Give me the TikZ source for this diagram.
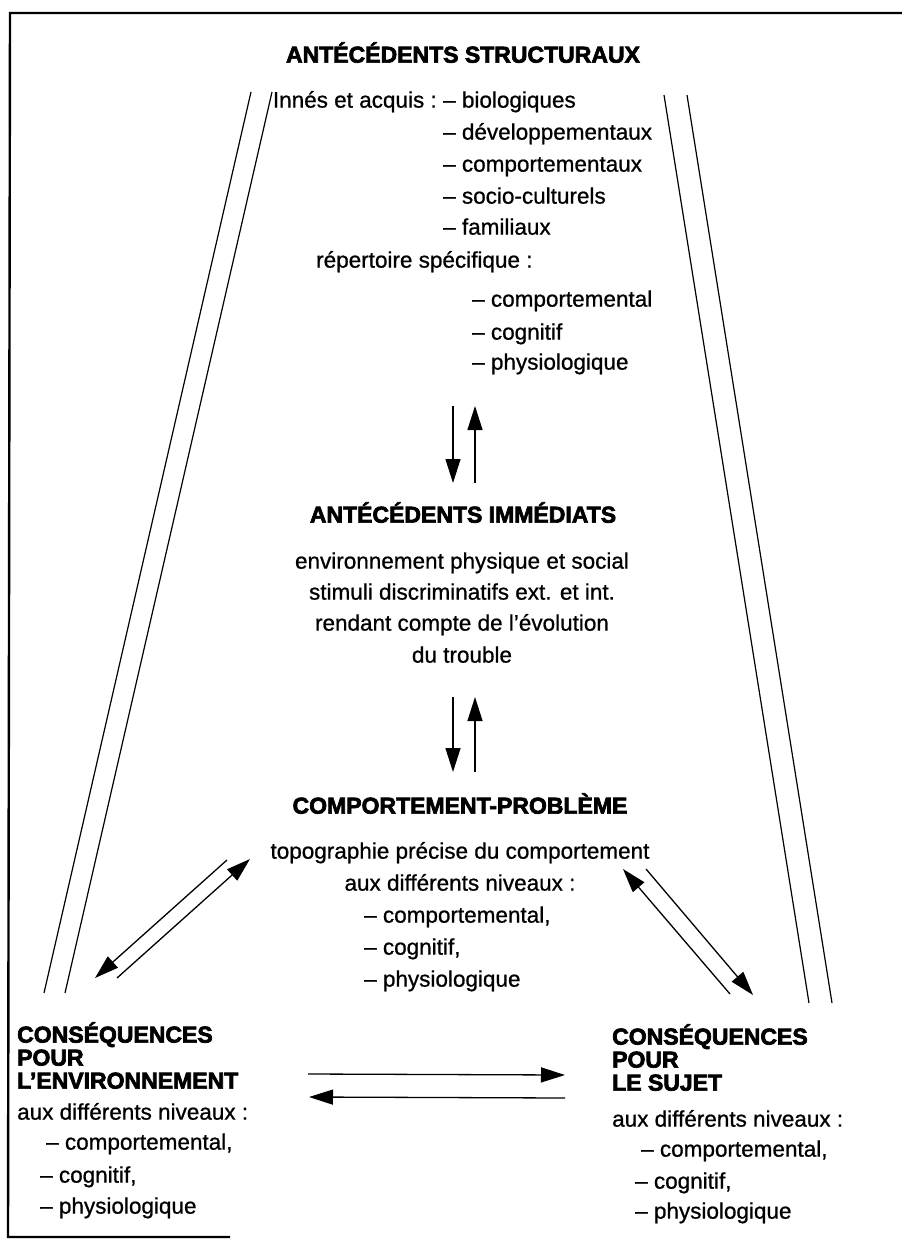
\documentclass[tikz,border=0pt]{standalone}
\usepackage{fontspec}
\setmainfont{Liberation Sans}[UprightFeatures={FakeBold=0.8}, BoldFeatures={FakeBold=3}]
\usetikzlibrary{arrows.meta}

\begin{document}
\begin{tikzpicture}[x=1pt,y=-1pt]
\tikzstyle{titel} = [font=\fontsize{23}{23}\selectfont\bfseries, inner sep=0pt, align=left]
\tikzstyle{zeile} = [font=\fontsize{22.5}{31}\selectfont, inner sep=0pt]
\tikzstyle{pfeil} = [line width=1.3pt, -{Triangle[length=24pt,width=15pt]}]
\tikzstyle{schraeg} = [line width=1.2pt]
\useasboundingbox (0,0) rectangle (902,1240);
% Rahmen
\draw[line width=2.4pt] (902,13) -- (10,13) -- (8,1237) -- (230,1237);
% Ebene 1
\node[titel, anchor=mid] (struct) at (463,60) {ANTÉCÉDENTS STRUCTURAUX};
\node[zeile, anchor=mid east] (acquis) at (437,105) {Innés et acquis :};
\foreach \y/\t [count=\i] in {105/biologiques,137/développementaux,169/comportementaux,201/socio-culturels,232/familiaux}
    \node[zeile, anchor=mid west] (inne\i) at (443,\y) {– \t};
\node[zeile, anchor=mid west] (repert) at (316,265) {répertoire spécifique :};
\foreach \y/\t [count=\i] in {304/comportemental,337/cognitif,367/physiologique}
    \node[zeile, anchor=mid west] (rep\i) at (472,\y) {– \t};
% Ebene 2
\node[titel, anchor=mid] (immed) at (463,520) {ANTÉCÉDENTS IMMÉDIATS};
\foreach \y/\t [count=\i] in {566/environnement physique et social,597/stimuli discriminatifs ext. et int.,628/rendant compte de l’évolution,660/du trouble}
    \node[zeile, anchor=mid] (imm\i) at (462,\y) {\t};
% Ebene 3
\node[titel, anchor=mid] (probl) at (460,811) {COMPORTEMENT-PROBLÈME};
\node[zeile, anchor=mid] (topo) at (460,856) {topographie précise du comportement};
\node[zeile, anchor=mid] (niv) at (460,888) {aux différents niveaux :};
\foreach \y/\t [count=\i] in {920/{comportemental,},952/{cognitif,},984/physiologique}
    \node[zeile, anchor=mid west] (pb\i) at (364,\y) {– \t};
% Konsequenzen
\node[titel, anchor=north west] (env) at (17,1022) {CONSÉQUENCES\\POUR\\L’ENVIRONNEMENT};
\node[zeile, anchor=mid west] (envniv) at (17,1117) {aux différents niveaux :};
\node[zeile, anchor=mid west] (env1) at (46,1147) {– comportemental,};
\node[zeile, anchor=mid west] (env2) at (40,1180) {– cognitif,};
\node[zeile, anchor=mid west] (env3) at (40,1211) {– physiologique};
\node[titel, anchor=north west] (suj) at (612,1024) {CONSÉQUENCES\\POUR\\LE SUJET};
\node[zeile, anchor=mid west] (sujniv) at (612,1124) {aux différents niveaux :};
\node[zeile, anchor=mid west] (suj1) at (641,1154) {– comportemental,};
\node[zeile, anchor=mid west] (suj2) at (635,1186) {– cognitif,};
\node[zeile, anchor=mid west] (suj3) at (635,1216) {– physiologique};
% Doppellinien
\draw[schraeg] (251,92) -- (44,993);
\draw[schraeg] (272,92) -- (65,993);
\draw[schraeg] (664,95) -- (809,1003);
\draw[schraeg] (687,95) -- (832,1003);
% Pfeile
\coordinate (o1) at (453,406); \coordinate (u1) at (453,483);
\coordinate (o2) at (475,406); \coordinate (u2) at (475,483);
\coordinate (o3) at (453,697); \coordinate (u3) at (453,772);
\coordinate (o4) at (475,697); \coordinate (u4) at (475,772);
\draw[pfeil] (o1) -- (u1);
\draw[pfeil] (u2) -- (o2);
\draw[pfeil] (o3) -- (u3);
\draw[pfeil] (u4) -- (o4);
\coordinate (lo1) at (227,860); \coordinate (lu1) at (95,978);
\coordinate (lo2) at (250,859); \coordinate (lu2) at (117,978);
\draw[pfeil] (lo1) -- (lu1);
\draw[pfeil] (lu2) -- (lo2);
\coordinate (ro1) at (623,869); \coordinate (ru1) at (730,994);
\coordinate (ro2) at (646,869); \coordinate (ru2) at (753,995);
\draw[pfeil] (ru1) -- (ro1);
\draw[pfeil] (ro2) -- (ru2);
\coordinate (hl1) at (308,1074); \coordinate (hr1) at (565,1075);
\coordinate (hl2) at (309,1097); \coordinate (hr2) at (565,1098);
\draw[pfeil] (hl1) -- (hr1);
\draw[pfeil] (hr2) -- (hl2);
\end{tikzpicture}
\end{document}
